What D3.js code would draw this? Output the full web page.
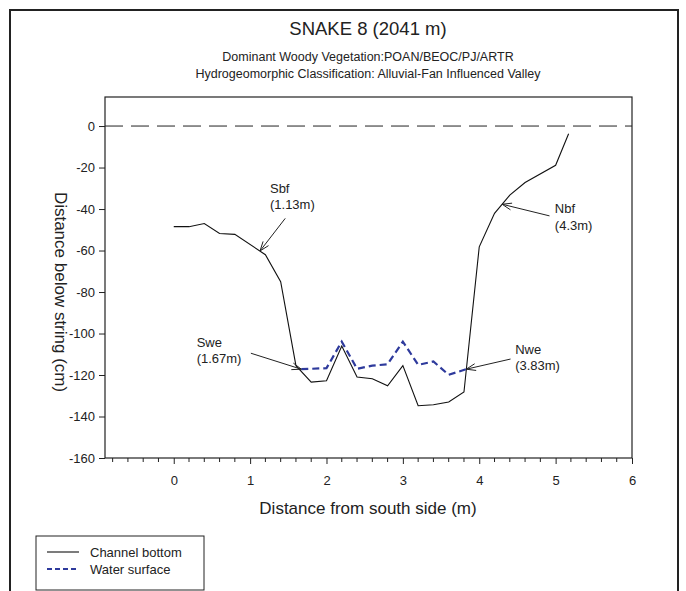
<!DOCTYPE html>
<html>
<head>
<meta charset="utf-8">
<script src="https://cdn.jsdelivr.net/npm/d3@7"></script>
<style>
  html, body { margin: 0; padding: 0; background: #fff; }
  svg { display: block; }
  text { font-family: "Liberation Sans", Arial, sans-serif; fill: #222; }
</style>
</head>
<body>
<svg id="chart" width="686" height="591"></svg>
<script>
// ---- Data ----
const bottomX = [0, 0.2, 0.4, 0.6, 0.8, 1.2, 1.4, 1.6, 1.8, 2.0, 2.2, 2.4, 2.6, 2.8, 3.0, 3.2, 3.4, 3.6, 3.8, 4.0, 4.2, 4.4, 4.6, 5.0, 5.17];
const bottomY = [-48.5, -48.5, -47, -51.8, -52.2, -62, -75, -115.5, -123.4, -122.8, -106, -121, -121.8, -125.2, -115.5, -134.8, -134.3, -133, -128.2, -58.2, -42.1, -33.3, -27.2, -18.9, -3.7];
const waterX = [1.67, 2.0, 2.2, 2.4, 2.6, 2.8, 3.0, 3.2, 3.4, 3.6, 3.83];
const waterY = [-117.2, -116.7, -103.9, -117, -115.5, -114.8, -103.9, -115.1, -113.5, -119.9, -117.2];
const xTicks = [0, 1, 2, 3, 4, 5, 6];
const yTicks = [0, -20, -40, -60, -80, -100, -120, -140, -160];
const annLabels = ["Sbf", "Nbf", "Swe", "Nwe"];
const annSub = ["(1.13m)", "(4.3m)", "(1.67m)", "(3.83m)"];
const annTargetX = [1.13, 4.3, 1.67, 3.83];
const annTargetY = [-60.2, -37.7, -117.2, -117.2];
const annTextX = [1.26, 4.99, 0.3, 4.47];
const annTextY = [-32.2, -42.1, -106.3, -109.8];
const annTailX = [1.46, 4.92, 1.01, 4.41];
const annTailY = [-44.5, -43.3, -109.5, -112.3];
const legendNames = ["Channel bottom", "Water surface"];

const bottomPts = bottomX.map((x, i) => ({x, y: bottomY[i]}));
const waterPts = waterX.map((x, i) => ({x, y: waterY[i]}));

const svg = d3.select("#chart");
const pL = 105, pR = 632, pT = 97, pB = 458;
const x = d3.scaleLinear().domain([-0.9, 6]).range([pL, pR]);
const y = d3.scaleLinear().domain([-160, 14]).range([pB, pT]);
const fmt = d => String(d);

// Outer frame
svg.append("rect").attr("x", 10).attr("y", 10).attr("width", 668).attr("height", 600)
  .attr("fill", "none").attr("stroke", "#222").attr("stroke-width", 2);

// Titles
svg.append("text").attr("x", 368).attr("y", 35).attr("text-anchor", "middle")
  .attr("font-size", 18.5).text("SNAKE 8 (2041 m)");
svg.append("text").attr("x", 368).attr("y", 61).attr("text-anchor", "middle")
  .attr("font-size", 12.5).text("Dominant Woody Vegetation:POAN/BEOC/PJ/ARTR");
svg.append("text").attr("x", 368).attr("y", 78).attr("text-anchor", "middle")
  .attr("font-size", 12.5).text("Hydrogeomorphic Classification: Alluvial-Fan Influenced Valley");

// Plot box
svg.append("rect").attr("x", pL).attr("y", pT).attr("width", pR - pL).attr("height", pB - pT)
  .attr("fill", "none").attr("stroke", "#222").attr("stroke-width", 1.2);

// Y axis
const yAxis = d3.axisLeft(y).tickValues(yTicks).tickSize(6).tickPadding(4).tickFormat(fmt);
const gy = svg.append("g").attr("transform", `translate(${pL},0)`).call(yAxis);
gy.select(".domain").remove();
gy.selectAll("text").attr("font-size", 13).attr("font-family", "Liberation Sans, Arial, sans-serif").attr("fill", "#222");
gy.selectAll("line").attr("stroke", "#222");

// X axis major
const xAxis = d3.axisBottom(x).tickValues(xTicks).tickSize(6).tickPadding(12).tickFormat(fmt);
const gx = svg.append("g").attr("transform", `translate(0,${pB})`).call(xAxis);
gx.select(".domain").remove();
gx.selectAll("text").attr("font-size", 13).attr("font-family", "Liberation Sans, Arial, sans-serif").attr("fill", "#222");
gx.selectAll("line").attr("stroke", "#222");
// X minor ticks
const minor = d3.range(-4, 30).map(d => d / 5).filter(d => Math.abs(d - Math.round(d)) > 1e-6);
svg.append("g").selectAll("line").data(minor).join("line")
  .attr("x1", d => x(d)).attr("x2", d => x(d)).attr("y1", pB).attr("y2", pB + 4)
  .attr("stroke", "#222").attr("stroke-width", 1);

// Axis titles
svg.append("text").attr("x", 368).attr("y", 514).attr("text-anchor", "middle")
  .attr("font-size", 17).text("Distance from south side (m)");
svg.append("text").attr("transform", `translate(55,${(y(0) + y(-160)) / 2}) rotate(90)`)
  .attr("text-anchor", "middle").attr("font-size", 17).text("Distance below string (cm)");

// Zero (string) line
svg.append("line").attr("x1", pL).attr("x2", pR).attr("y1", y(0)).attr("y2", y(0))
  .attr("stroke", "#222").attr("stroke-width", 1).attr("stroke-dasharray", "18,8");

const line = d3.line().x(d => x(d.x)).y(d => y(d.y));
svg.append("path").datum(bottomPts).attr("d", line).attr("fill", "none")
  .attr("stroke", "#111").attr("stroke-width", 1.1);
svg.append("path").datum(waterPts).attr("d", line).attr("fill", "none")
  .attr("stroke", "#2e3a9c").attr("stroke-width", 2.2).attr("stroke-dasharray", "7,4");

// Annotations
annLabels.forEach((lab, i) => {
  const tx = x(annTargetX[i]), ty = y(annTargetY[i]);
  const sx = x(annTailX[i]), sy = y(annTailY[i]);
  svg.append("line").attr("x1", sx).attr("y1", sy).attr("x2", tx).attr("y2", ty)
    .attr("stroke", "#222").attr("stroke-width", 1);
  const ang = Math.atan2(ty - sy, tx - sx);
  const L = 10, w = 0.35;
  [ang + Math.PI - w, ang + Math.PI + w].forEach(a => {
    svg.append("line").attr("x1", tx).attr("y1", ty)
      .attr("x2", tx + L * Math.cos(a)).attr("y2", ty + L * Math.sin(a))
      .attr("stroke", "#222").attr("stroke-width", 1);
  });
  const t = svg.append("text").attr("x", x(annTextX[i])).attr("y", y(annTextY[i])).attr("font-size", 13);
  t.append("tspan").attr("x", x(annTextX[i])).text(lab);
  t.append("tspan").attr("x", x(annTextX[i])).attr("dy", 16.5).text(annSub[i]);
});

// Legend
const lg = svg.append("g");
lg.append("rect").attr("x", 36).attr("y", 536).attr("width", 168).attr("height", 54)
  .attr("fill", "#fff").attr("stroke", "#222").attr("stroke-width", 1);
const lgStroke = ["#111", "#2e3a9c"], lgDash = [null, "5,3"], lgW = [1.1, 2];
legendNames.forEach((n, i) => {
  const yy = 552 + i * 17;
  lg.append("line").attr("x1", 47).attr("x2", 79).attr("y1", yy).attr("y2", yy)
    .attr("stroke", lgStroke[i]).attr("stroke-width", lgW[i]).attr("stroke-dasharray", lgDash[i]);
  lg.append("text").attr("x", 90).attr("y", yy + 4.5).attr("font-size", 13).text(n);
});
</script>
</body>
</html>
